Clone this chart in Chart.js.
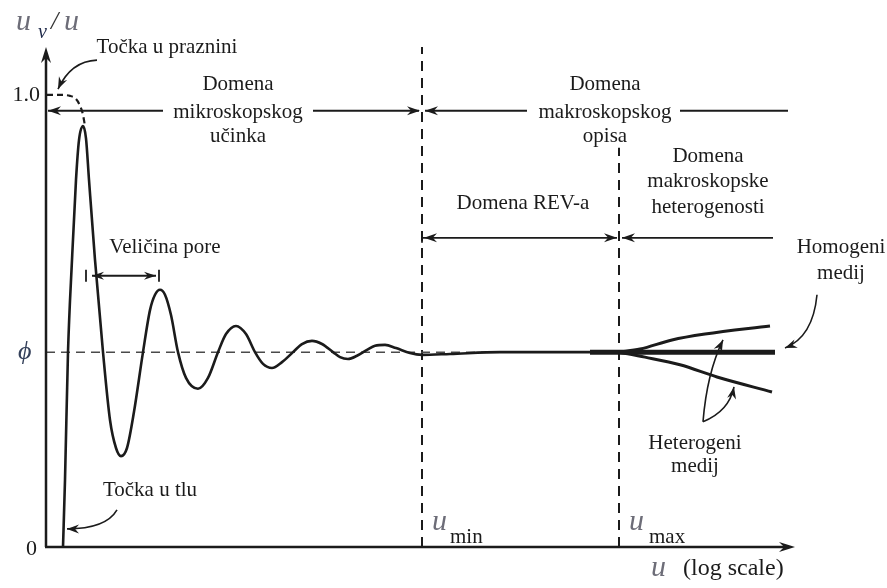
<!DOCTYPE html>
<html>
<head>
<meta charset="utf-8">
<script src="https://cdn.jsdelivr.net/npm/chart.js@4"></script>
<style>
  html, body { margin: 0; padding: 0; background: #fff; }
  #wrap { width: 887px; height: 588px; }
</style>
</head>
<body>
<div id="wrap"><canvas id="rev" width="887" height="588"></canvas></div>
<script>
// u (log scale, relative units) and u_v/u ratio
const curveU = [0.17, 0.19, 0.22, 0.26, 0.30, 0.33, 0.37, 0.40, 0.43, 0.49, 0.57, 0.64, 0.70, 0.75, 0.81, 0.88, 0.97,
  1.04, 1.09, 1.14, 1.19, 1.25, 1.32, 1.40, 1.52, 1.62, 1.72, 1.80, 1.90, 2.00, 2.09, 2.17, 2.26, 2.36, 2.47,
  2.56, 2.66, 2.76, 2.87, 2.94, 3.02, 3.11, 3.21, 3.29, 3.39, 3.50, 3.64, 3.76, 4.04, 4.54, 5.14, 5.73];
const curveRatio = [0, 0.148, 0.431, 0.635, 0.812, 0.900, 0.931, 0.904, 0.812, 0.635, 0.431, 0.281, 0.219, 0.201, 0.219, 0.299, 0.431,
  0.524, 0.558, 0.569, 0.558, 0.513, 0.431, 0.374, 0.350, 0.374, 0.431, 0.471, 0.489, 0.471, 0.431, 0.405, 0.396, 0.409, 0.431,
  0.449, 0.456, 0.449, 0.431, 0.420, 0.416, 0.423, 0.436, 0.445, 0.447, 0.440, 0.429, 0.425, 0.427, 0.431, 0.431, 0.431];

// dashed start: point in the void
const voidU = [0.01, 0.14, 0.24, 0.30, 0.34, 0.37, 0.39];
const voidRatio = [1.0, 1.0, 0.998, 0.991, 0.976, 0.956, 0.931];

// branches past u_max
const homogU = [5.44, 7.29];
const homogRatio = [0.431, 0.431];
const heteroUpU = [5.73, 5.94, 6.26, 6.59, 7.24];
const heteroUpRatio = [0.431, 0.438, 0.458, 0.471, 0.489];
const heteroLowU = [5.73, 5.99, 6.34, 6.71, 7.26];
const heteroLowRatio = [0.431, 0.420, 0.403, 0.376, 0.343];

const phi = 0.431;
const uMin = 3.76;
const uMax = 5.73;
const uEnd = 7.49;
const ratioTop = 1.106;

const pts = (xs, ys) => xs.map((x, i) => ({ x: x, y: ys[i] }));

const SERIF = '"Liberation Serif", "DejaVu Serif", serif';
const INK = '#1b1b1b';

function head(ctx, x, y, ang, len, w) {
  len = len || 13; w = w || 4.5;
  ctx.save();
  ctx.translate(x, y);
  ctx.rotate(ang);
  ctx.beginPath();
  ctx.moveTo(0, 0);
  ctx.lineTo(-len, -w);
  ctx.lineTo(-len * 0.68, 0);
  ctx.lineTo(-len, w);
  ctx.closePath();
  ctx.fill();
  ctx.restore();
}

const sketch = {
  id: 'sketch',
  afterDatasetsDraw(chart) {
    const { ctx } = chart;
    const X = v => chart.scales.x.getPixelForValue(v);
    const Y = v => chart.scales.y.getPixelForValue(v);
    ctx.save();
    ctx.strokeStyle = INK;
    ctx.fillStyle = INK;
    ctx.lineCap = 'butt';

    // axes
    ctx.lineWidth = 2.5;
    ctx.beginPath();
    ctx.moveTo(X(0), Y(0)); ctx.lineTo(X(0), Y(ratioTop) + 6);
    ctx.moveTo(X(0) - 1, Y(0)); ctx.lineTo(X(uEnd) - 6, Y(0));
    ctx.stroke();
    head(ctx, X(0), Y(ratioTop), -Math.PI / 2, 16, 5);
    head(ctx, X(uEnd), Y(0), 0, 16, 5);

    // straight arrows
    const hline = (a, b, y) => {
      ctx.beginPath(); ctx.moveTo(X(a), Y(y)); ctx.lineTo(X(b), Y(y)); ctx.stroke();
    };
    const bar = (x, y, h) => {
      ctx.beginPath(); ctx.moveTo(X(x), Y(y) - h); ctx.lineTo(X(x), Y(y) + h); ctx.stroke();
    };
    ctx.lineWidth = 1.8;
    const topY = 0.965, midY = 0.684, poreY = 0.600;
    hline(0.02, 1.17, topY); head(ctx, X(0.02), Y(topY), Math.PI);
    hline(2.67, 3.73, topY); head(ctx, X(3.74), Y(topY), 0);
    hline(3.79, 4.81, topY); head(ctx, X(3.79), Y(topY), Math.PI);
    hline(6.34, 7.42, topY);
    hline(3.77, 5.71, midY); head(ctx, X(3.78), Y(midY), Math.PI); head(ctx, X(5.71), Y(midY), 0);
    bar(uMin, midY, 5);
    hline(5.76, 7.27, midY); head(ctx, X(5.76), Y(midY), Math.PI);
    hline(0.46, 1.10, poreY); head(ctx, X(0.46), Y(poreY), Math.PI, 12, 4); head(ctx, X(1.10), Y(poreY), 0, 12, 4);
    bar(0.40, poreY, 6); bar(1.13, poreY, 6);

    // curved pointers
    const curve = (s, c, t) => {
      ctx.beginPath();
      ctx.moveTo(X(s[0]), Y(s[1]));
      ctx.quadraticCurveTo(X(c[0]), Y(c[1]), X(t[0]), Y(t[1]));
      ctx.stroke();
      const ang = Math.atan2(Y(t[1]) - Y(c[1]), X(t[0]) - X(c[0]));
      head(ctx, X(t[0]), Y(t[1]), ang, 12, 4.5);
    };
    ctx.lineWidth = 1.6;
    curve([0.51, 1.077], [0.25, 1.075], [0.12, 1.013]);
    curve([0.71, 0.082], [0.60, 0.040], [0.21, 0.040]);
    curve([7.71, 0.558], [7.67, 0.465], [7.39, 0.440]);
    curve([6.57, 0.277], [6.61, 0.385], [6.77, 0.458]);
    curve([6.57, 0.277], [6.83, 0.300], [6.88, 0.354]);

    // labels
    ctx.textBaseline = 'middle';
    const txt = (s, x, y, align, size) => {
      ctx.font = (size || 21) + 'px ' + SERIF;
      ctx.textAlign = align || 'center';
      ctx.fillText(s, X(x), Y(y));
    };
    txt('Točka u praznini', 1.21, 1.104);
    txt('Domena', 1.92, 1.022); txt('mikroskopskog', 1.92, 0.962); txt('učinka', 1.92, 0.907);
    txt('Domena', 5.59, 1.022); txt('makroskopskog', 5.59, 0.962); txt('opisa', 5.59, 0.907);
    txt('Domena', 6.62, 0.863); txt('makroskopske', 6.62, 0.808); txt('heterogenosti', 6.62, 0.752);
    txt('Domena REV-a', 4.77, 0.759);
    txt('Veličina pore', 1.19, 0.662);
    txt('Točka u tlu', 1.04, 0.126);
    txt('Homogeni', 7.95, 0.662); txt('medij', 7.95, 0.606);
    txt('Heterogeni', 6.49, 0.230); txt('medij', 6.49, 0.177);
    txt('1.0', -0.06, 1.0, 'right', 22);
    txt('0', -0.09, -0.006, 'right', 22);

    // italic symbols
    const sym = (s, x, y, size, color) => {
      ctx.font = 'italic ' + size + 'px ' + SERIF;
      ctx.fillStyle = color;
      ctx.textAlign = 'left';
      ctx.fillText(s, X(x), Y(y));
      ctx.fillStyle = INK;
    };
    sym('ϕ', -0.28, phi, 26, '#34405a');
    sym('u', -0.30, 1.162, 30, '#6d6d78');
    sym('v', -0.08, 1.138, 20, '#1f2a4a');
    sym('/', 0.05, 1.160, 26, '#333');
    sym('u', 0.18, 1.162, 30, '#6d6d78');
    sym('u', 3.86, 0.055, 30, '#6d6d78');
    txt('min', 4.04, 0.022, 'left', 21);
    sym('u', 5.83, 0.055, 30, '#6d6d78');
    txt('max', 6.03, 0.022, 'left', 21);
    sym('u', 6.05, -0.047, 30, '#6d6d78');
    txt('(log scale)', 6.37, -0.047, 'left', 24);
    ctx.restore();
  }
};

const line = (data, extra) => Object.assign({
  data: data, showLine: true, pointRadius: 0, borderColor: INK, borderWidth: 2.6,
  cubicInterpolationMode: 'monotone', clip: false
}, extra || {});

new Chart(document.getElementById('rev'), {
  type: 'scatter',
  data: {
    datasets: [
      line(pts(curveU, curveRatio)),
      line(pts(homogU, homogRatio), { borderWidth: 5, cubicInterpolationMode: 'default' }),
      line(pts(heteroUpU, heteroUpRatio), { borderWidth: 3 }),
      line(pts(heteroLowU, heteroLowRatio), { borderWidth: 3 }),
      line(pts(voidU, voidRatio), { borderDash: [6, 4], borderWidth: 2.2 }),
      line(pts([0, 7.29], [phi, phi]), { borderDash: [9, 6], borderWidth: 1.5, borderColor: '#4a4a4a', cubicInterpolationMode: 'default' }),
      line(pts([uMin, uMin], [0, ratioTop]), { borderDash: [10, 7], borderWidth: 2, cubicInterpolationMode: 'default' }),
      line(pts([uMax, uMax], [0, 0.883]), { borderDash: [10, 7], borderWidth: 2, cubicInterpolationMode: 'default' })
    ]
  },
  options: {
    responsive: false,
    animation: false,
    layout: { padding: { left: 46, right: 92, top: 47, bottom: 41 } },
    scales: {
      x: { type: 'linear', min: 0, max: uEnd, display: false },
      y: { type: 'linear', min: 0, max: ratioTop, display: false }
    },
    plugins: { legend: { display: false }, tooltip: { enabled: false } }
  },
  plugins: [sketch]
});
</script>
</body>
</html>
